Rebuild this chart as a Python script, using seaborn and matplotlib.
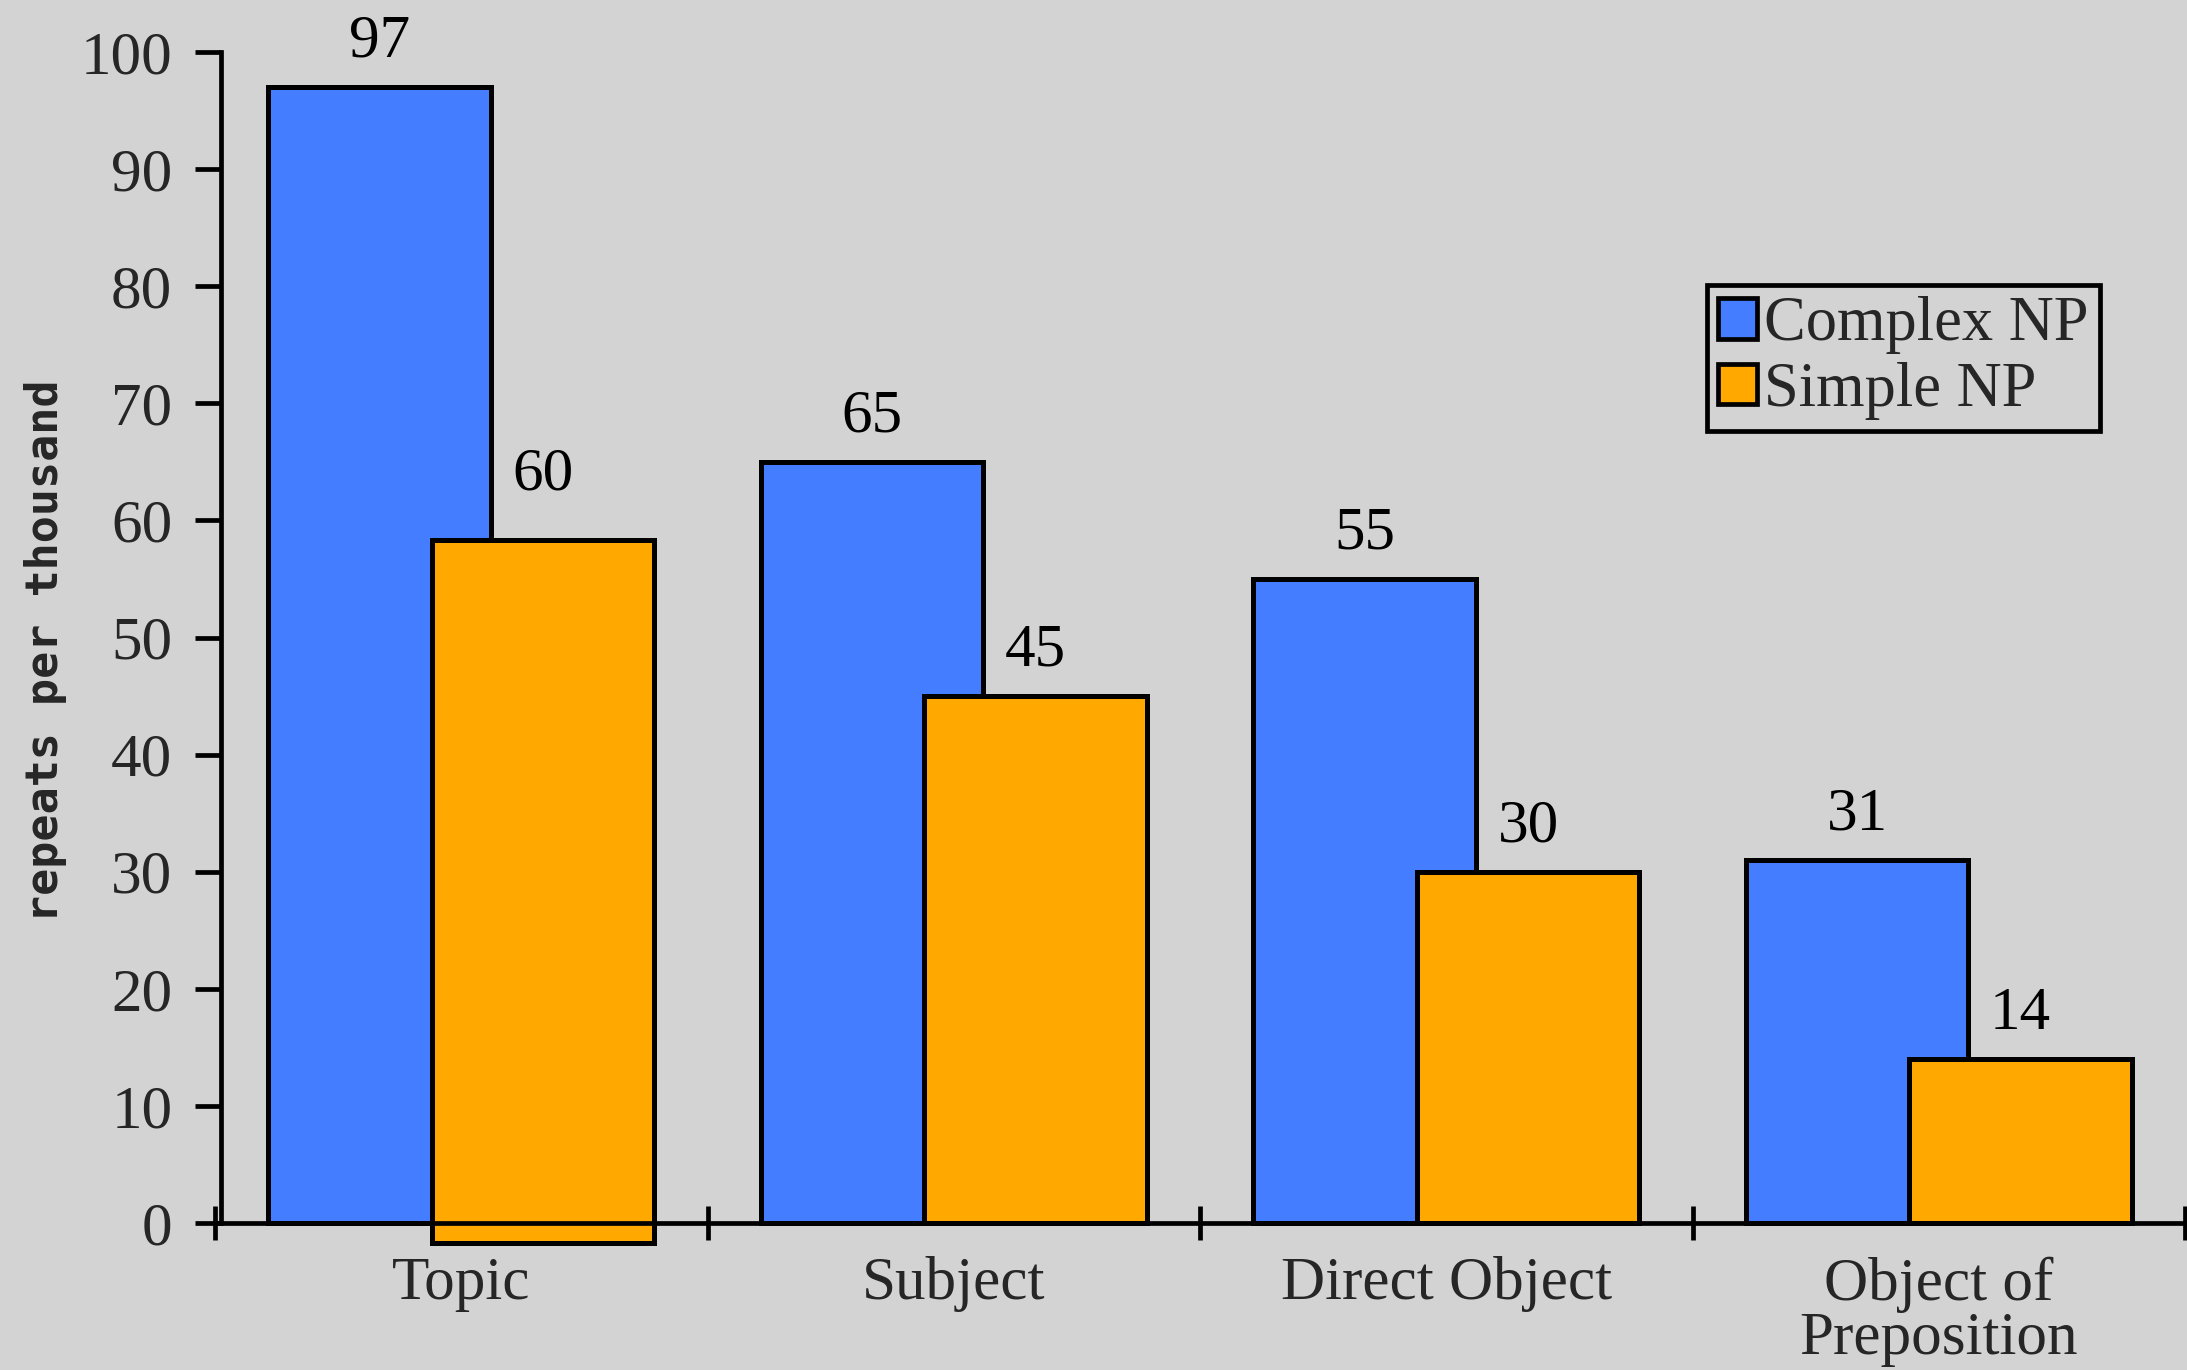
import matplotlib
matplotlib.use("Agg")
import matplotlib.pyplot as plt
from matplotlib.patches import Patch
import seaborn as sns
import pandas as pd

# Repeat rates by syntactic position
categories = ["Topic", "Subject", "Direct Object", "Object of\nPreposition"]
series = ["Complex NP", "Simple NP"]
complex_np = [97, 65, 55, 31]
simple_np = [60, 45, 30, 14]
# baseline of each Simple NP bar (the Topic bar sits slightly below zero)
simple_np_base = [-1.7, 0, 0, 0]
y_ticks = [0, 10, 20, 30, 40, 50, 60, 70, 80, 90, 100]

BLUE = "#447dff"
ORANGE = "#ffa800"
BG = "#d3d3d3"

df = pd.DataFrame({
    "category": categories * 2,
    "group": [series[0]] * len(categories) + [series[1]] * len(categories),
    "value": complex_np + simple_np,
})

sns.set_theme(style="ticks")
plt.rcParams["font.family"] = ["Liberation Serif", "DejaVu Serif"]

W, H = 2187, 1370
fig = plt.figure(figsize=(W / 100, H / 100), dpi=100, facecolor=BG)
ax = fig.add_axes([215 / W, (H - 1223) / H, (2185 - 215) / W, 1171 / H])
ax.set_facecolor(BG)

sns.barplot(data=df, x="category", y="value", hue="group",
            order=categories, hue_order=series,
            palette=[BLUE, ORANGE], saturation=1,
            edgecolor="black", linewidth=3.6, legend=False, ax=ax)

bar_w = 0.452
offsets = [-0.166, 0.166]
values = [complex_np, simple_np]
bases = [[0] * len(categories), simple_np_base]
for j, cont in enumerate(ax.containers):
    for i, bar in enumerate(cont.patches):
        bar.set_width(bar_w)
        bar.set_x(i + offsets[j] - bar_w / 2)
        bar.set_y(bases[j][i])
        bar.set_height(values[j][i])
        bar.set_clip_on(False)
        bar.set_zorder(2 + j)
        ax.annotate(f"{values[j][i]}", (i + offsets[j], values[j][i]),
                    xytext=(0, 22), textcoords="offset points",
                    ha="center", va="baseline", fontsize=44,
                    color="black", annotation_clip=False)

ax.set_xlim(-0.5, len(categories) - 0.5)
ax.set_ylim(0, 100)
ax.set_xlabel("")
ax.set_ylabel("")

for s in ["top", "right"]:
    ax.spines[s].set_visible(False)
ax.spines["left"].set_position(("data", -0.488))
ax.spines["left"].set_bounds(0, 100)
for s in ["left", "bottom"]:
    ax.spines[s].set_linewidth(3.4)
    ax.spines[s].set_color("black")
    ax.spines[s].set_zorder(5)

ax.set_yticks(y_ticks)
ax.set_yticklabels([str(v) for v in y_ticks])
ax.tick_params(axis="y", direction="out", length=19, width=3.4,
               labelsize=44, pad=16, color="black")

ax.set_xticks([i - 0.5 for i in range(len(categories) + 1)])
ax.set_xticklabels([])
ax.set_xticks(range(len(categories)), minor=True)
ax.set_xticklabels(categories, minor=True, fontsize=44, linespacing=0.98)
ax.tick_params(axis="x", which="major", direction="inout", length=24,
               width=3.4, color="black")
ax.tick_params(axis="x", which="minor", length=0, pad=24)

fig.text(24 / W, 0.525, "repeats per thousand", rotation=90,
         family="DejaVu Sans Mono", fontweight="bold", fontsize=32.5,
         ha="left", va="center")

handles = [Patch(facecolor=c, edgecolor="black", linewidth=3.4)
           for c in (BLUE, ORANGE)]
leg = ax.legend(handles, series, loc="upper left",
                bbox_to_anchor=(1707 / W, (H - 285) / H),
                bbox_transform=fig.transFigure, fontsize=45,
                frameon=True, fancybox=False, framealpha=1,
                facecolor=BG, edgecolor="black",
                handlelength=0.62, handleheight=0.62, handletextpad=0.12,
                borderpad=0.18, labelspacing=0.12, borderaxespad=0)
leg.get_frame().set_linewidth(3.4)

fig.savefig("out.png", dpi=100, facecolor=BG)
